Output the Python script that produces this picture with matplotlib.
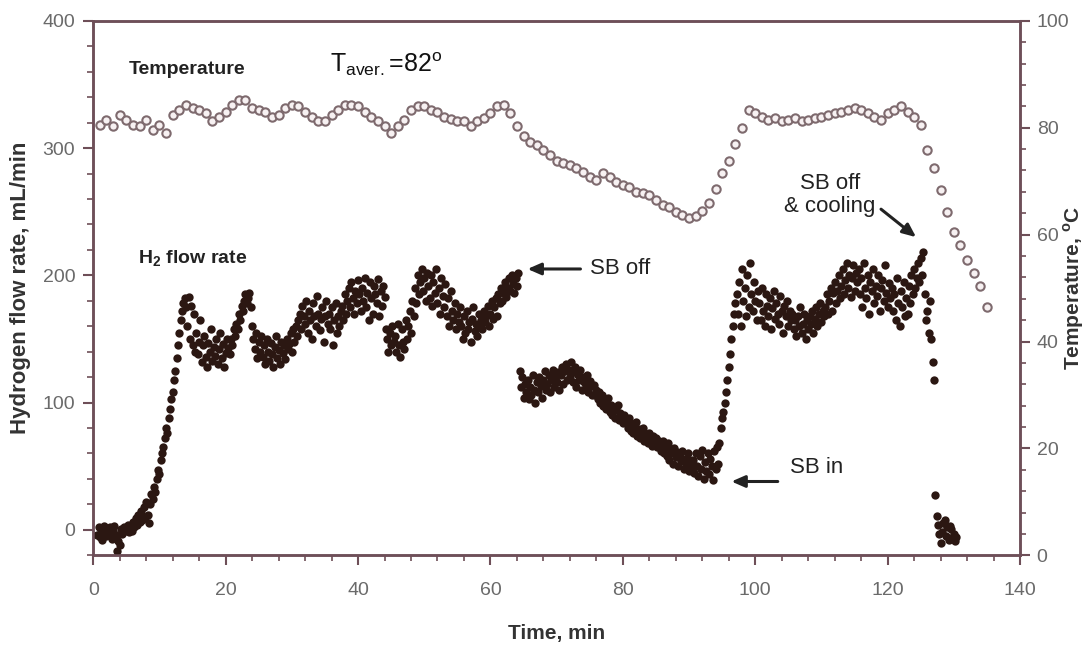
import numpy as np
import matplotlib.pyplot as plt
from matplotlib.ticker import MultipleLocator

# temperature, one reading per minute (right axis)
temp_c = [
    80.6, 81.5, 80.3, 82.4, 81.5, 80.6, 80.3, 81.4, 79.5, 80.6,
    79.0, 82.4, 83.3, 84.3, 83.7, 83.3, 82.7, 81.2, 82.1, 83.0,
    84.3, 85.2, 85.1, 83.7, 83.3, 83.0, 82.1, 82.4, 83.7, 84.3,
    84.1, 83.0, 82.1, 81.2, 81.2, 82.4, 83.3, 84.3, 84.3, 84.1,
    83.0, 82.1, 81.2, 80.3, 79.0, 80.3, 81.5, 83.3, 84.0, 84.0,
    83.3, 83.0, 82.1, 81.6, 81.2, 81.2, 80.3, 81.2, 81.8, 82.7,
    84.0, 84.3, 82.7, 80.3, 78.4, 77.4, 76.8, 75.8, 74.9, 73.7,
    73.4, 73.0, 72.4, 71.8, 70.8, 70.2, 71.5, 70.8, 69.9, 69.3,
    69.0, 68.0, 67.7, 67.4, 66.5, 65.5, 65.2, 64.3, 63.7, 63.1,
    63.4, 64.5, 66.0, 68.5, 71.5, 73.8, 77.0, 80.0, 83.3, 82.7,
    82.1, 81.5, 81.8, 81.2, 81.5, 81.8, 81.2, 81.5, 81.8, 82.1,
    82.4, 82.7, 83.0, 83.3, 83.6, 83.3, 82.7, 82.1, 81.5, 82.7,
    83.3, 84.0, 83.0, 82.1, 80.5, 75.8, 72.4, 68.4, 64.3, 60.5,
    58.0, 55.2, 52.8, 50.3, 46.5,
]
temp_time = np.arange(1, len(temp_c) + 1)

# H2 flow rate, one reading every 0.2 min starting at 0.6 min (left axis)
h2_flow = [
    -4, 2, -6, 0, -8, 3, -2, -5, 1, -3, 2, -7, -1, 3, -4, -17, -9, -12, 1, -3, 2, -1, 0, 4, -2,
    3, -1, 6, 2, 9, 4, 12, 6, 15, 8, 18, 10, 22, 12, 5, 20, 28, 24, 34, 30, 40, 47, 44, 55, 60,
    65, 72, 80, 76, 88, 95, 103, 108, 118, 125, 135, 145, 155, 165, 172, 178, 182, 175, 160, 183, 150, 176, 145, 170, 140,
    155, 138, 148, 165, 132, 145, 152, 136, 128, 147, 140, 158, 133, 144, 137, 150, 130, 142, 155, 135, 146, 128, 139, 150, 143,
    138, 150, 145, 158, 152, 162, 158, 170, 165, 176, 172, 180, 185, 178, 182, 186, 175, 160, 150, 142, 155, 135, 148, 140, 152,
    136, 145, 130, 150, 140, 133, 147, 138, 128, 144, 152, 135, 141, 130, 148, 139, 145, 134, 150, 142, 146, 155, 140, 158, 148,
    160, 152, 165, 170, 158, 176, 168, 162, 180, 155, 172, 165, 150, 178, 168, 160, 184, 170, 157, 166, 175, 148, 168, 180, 162,
    170, 158, 175, 145, 165, 178, 155, 168, 160, 172, 176, 165, 185, 170, 180, 190, 175, 195, 182, 170, 188, 178, 196, 185, 172,
    190, 180, 198, 175, 186, 165, 195, 182, 170, 192, 185, 178, 197, 168, 188, 176, 192, 183, 158, 150, 140, 155, 145, 160, 148,
    152, 140, 162, 145, 136, 158, 148, 142, 165, 150, 160, 172, 155, 180, 168, 190, 178, 200, 185, 195, 205, 188, 198, 180, 202,
    192, 182, 200, 176, 195, 186, 205, 178, 190, 170, 198, 184, 175, 193, 168, 182, 160, 188, 172, 165, 178, 158, 170, 163, 175,
    160, 150, 168, 155, 172, 158, 163, 148, 166, 175, 156, 162, 152, 170, 160, 165, 158, 172, 163, 168, 176, 160, 170, 180, 166,
    175, 182, 168, 185, 178, 190, 180, 186, 195, 183, 190, 198, 188, 200, 193, 186, 198, 192, 202, 125, 112, 120, 104, 115, 108,
    118, 103, 112, 106, 122, 110, 100, 116, 108, 120, 113, 104, 118, 125, 110, 115, 122, 108, 118, 126, 112, 120, 116, 124, 110,
    122, 128, 115, 125, 130, 118, 126, 120, 132, 116, 124, 128, 112, 122, 118, 126, 110, 120, 116, 112, 122, 108, 117, 113, 106,
    114, 106, 110, 103, 108, 100, 106, 97, 102, 95, 100, 104, 93, 98, 90, 96, 88, 94, 98, 86, 92, 88, 84, 90, 86,
    84, 80, 88, 78, 83, 76, 81, 85, 74, 79, 72, 77, 80, 70, 75, 73, 68, 76, 71, 66, 74, 69, 72, 65, 70,
    66, 62, 70, 60, 65, 58, 68, 55, 63, 60, 52, 64, 57, 61, 50, 58, 54, 62, 48, 56, 52, 60, 46, 55, 50,
    55, 45, 60, 50, 42, 58, 48, 63, 40, 53, 46, 60, 44, 56, 50, 39, 62, 48, 65, 52, 68, 80, 88, 93, 100,
    108, 118, 128, 138, 150, 160, 170, 178, 185, 170, 195, 160, 205, 180, 190, 168, 200, 175, 210, 185, 172, 195, 180, 165, 188,
    178, 165, 190, 172, 160, 185, 176, 168, 182, 158, 174, 188, 166, 178, 170, 162, 184, 172, 155, 176, 168, 180, 160, 172, 165,
    170, 158, 165, 152, 168, 160, 175, 155, 162, 170, 150, 165, 158, 168, 162, 172, 155, 166, 175, 160, 170, 178, 163, 172, 168,
    175, 185, 170, 180, 190, 172, 186, 195, 178, 188, 200, 182, 192, 205, 185, 196, 210, 190, 200, 183, 198, 208, 188, 202, 195,
    205, 185, 198, 175, 210, 190, 182, 200, 170, 195, 188, 205, 178, 192, 184, 200, 172, 190, 196, 180, 208, 186, 175, 194, 182,
    190, 172, 185, 165, 198, 178, 160, 188, 175, 195, 168, 182, 170, 192, 178, 200, 185, 205, 190, 198, 210, 195, 214, 200, 218,
    185, 165, 172, 155, 180, 150, 132, 118, 27, 11, 4, -3, -10, -2, 5, 8, -5, 2, -8, 3, 1, -6, -3, -9, -6,
]
h2_time = 0.6 + 0.2 * np.arange(len(h2_flow))

axis_col = '#6e4f58'
tick_col = '#6a6a6a'
narrow = ['Liberation Sans Narrow', 'Liberation Sans', 'DejaVu Sans']
plt.rcParams['font.family'] = ['Liberation Sans', 'DejaVu Sans']

fig = plt.figure(figsize=(10.84, 6.51), dpi=100)
ax = fig.add_axes([0.086, 0.147, 0.855, 0.821])
ax2 = ax.twinx()

ax.plot(h2_time, h2_flow, 'o', color='#2b1712', markersize=6.0, markeredgewidth=0, zorder=3)
ax2.plot(temp_time, temp_c, 'o', markerfacecolor='#f7f1f2', markeredgecolor='#7e6a6e',
         markersize=6.0, markeredgewidth=1.5)

ax.set_xlim(0, 140)
ax.set_ylim(-20, 400)
ax2.set_ylim(0, 100)

ax.xaxis.set_major_locator(MultipleLocator(20))
ax.xaxis.set_minor_locator(MultipleLocator(4))
ax.yaxis.set_major_locator(MultipleLocator(100))
ax.yaxis.set_minor_locator(MultipleLocator(20))
ax2.yaxis.set_major_locator(MultipleLocator(20))
ax2.yaxis.set_minor_locator(MultipleLocator(4))

for a in (ax, ax2):
    for s in a.spines.values():
        s.set_color(axis_col)
        s.set_linewidth(1.8)
    a.tick_params(which='major', direction='out', length=7, width=1.5, color=axis_col,
                  labelcolor=tick_col, labelsize=14)
    a.tick_params(which='minor', direction='out', length=4, width=1.2, color=axis_col)
    for lab in a.get_xticklabels() + a.get_yticklabels():
        lab.set_family(narrow)
ax.tick_params(axis='x', pad=12)
ax.tick_params(axis='y', pad=6)
ax2.tick_params(axis='y', pad=5)

ax.set_xlabel('Time, min', fontsize=15, fontweight='bold', color='#333333', labelpad=18,
              family=narrow)
ax.set_ylabel('Hydrogen flow rate, mL/min', fontsize=16, fontweight='bold', color='#333333',
              labelpad=8)
ax2.set_ylabel('Temperature, $^\\mathregular{o}$C', fontsize=15, fontweight='bold',
               color='#333333')
ax2.yaxis.set_label_coords(1.044, 0.5)

ax.text(5.3, 362, 'Temperature', fontsize=14, fontweight='bold', color='#222222',
        va='center', family=narrow)
ax.text(35.8, 366, 'T$_\\mathregular{aver.}$=82$^\\mathregular{o}$', fontsize=18,
        color='#111111', va='center')
ax.text(6.8, 213, 'H$_\\mathregular{2}$ flow rate', fontsize=14, fontweight='bold',
        color='#222222', va='center', family=narrow)

arrow = dict(arrowstyle='-|>,head_width=0.35,head_length=0.8', color='#222222', lw=2.2,
             shrinkA=0, shrinkB=0)
ax.annotate('', xy=(65.6, 205), xytext=(73.6, 205), arrowprops=arrow)
ax.text(75.0, 205, 'SB off', fontsize=16, color='#222222', va='center')
ax.annotate('', xy=(96.4, 38), xytext=(103.4, 38), arrowprops=arrow)
ax.text(105.2, 49, 'SB in', fontsize=16, color='#222222', va='center')
ax.text(111.3, 263, 'SB off\n& cooling', fontsize=16, color='#222222', ha='center',
        va='center', linespacing=1.1)
ax.annotate('', xy=(124.3, 230), xytext=(119.0, 252), arrowprops=arrow)

fig.savefig('out.png', dpi=100)
